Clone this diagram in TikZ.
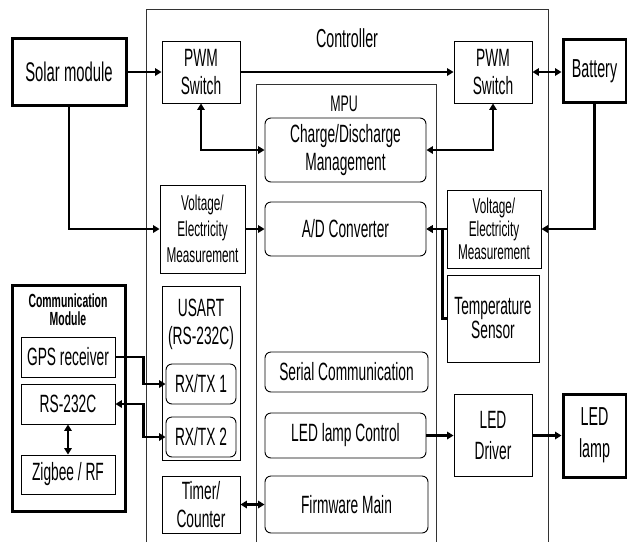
\documentclass[tikz,border=0pt]{standalone}
\usepackage{fontspec}
\setmainfont[FakeStretch=0.55]{Liberation Sans}
\usetikzlibrary{arrows.meta, positioning, calc}

\begin{document}
\begin{tikzpicture}[x=1pt, y=-1pt,
    every node/.style={inner sep=0pt, align=center, font=\fontsize{25}{28}\selectfont},
    frame/.style={line width=0.8pt, draw=black!80},
    blk/.style 2 args={draw, line width=0.9pt, minimum width=#1pt, minimum height=#2pt},
    rblk/.style 2 args={blk={#1}{#2}, rounded corners=6pt},
    hblk/.style 2 args={draw, line width=3pt, minimum width=#1pt, minimum height=#2pt},
    arr/.style={line width=2.8pt, -{Triangle[length=6.5pt, width=7.5pt]}},
    darr/.style={line width=2.8pt, {Triangle[length=6.5pt, width=7.5pt]}-{Triangle[length=6.5pt, width=7.5pt]}}]
    \useasboundingbox (0,0) rectangle (627,542);

    \draw[frame] (146,542) -- (146,9) -- (548,9) -- (548,542);
    \draw[frame] (256,542) -- (256,84) -- (436,84) -- (436,542);
    \node[font=\fontsize{26}{28}\selectfont] (ctrl) at (347,38) {Controller};
    \node[font=\fontsize{22.5}{26}\selectfont] (mpu) at (344,104) {MPU};

    \node[hblk={114}{67}, font=\fontsize{27}{30}\selectfont] (solar) at (69,72) {Solar module};
    \node[blk={78}{62}] (pwmL) at (201,72) {PWM\\Switch};
    \node[blk={78}{62}] (pwmR) at (493,72) {PWM\\Switch};
    \node[hblk={63}{63}, font=\fontsize{26}{28}\selectfont] (batt) at (594.5,71) {Battery};

    \node[rblk={161}{64}] (charge) at (345.5,150) {Charge/Discharge\\Management};
    \node[rblk={161}{54}] (adc) at (345.5,229) {A/D Converter};
    \node[blk={85}{88}, font=\fontsize{21.4}{26}\selectfont] (voltL) at (202.5,229) {Voltage/\\Electricity\\Measurement};
    \node[blk={94}{78}, font=\fontsize{21.4}{23}\selectfont] (voltR) at (494,229) {Voltage/\\Electricity\\Measurement};
    \node[blk={92}{87}, font=\fontsize{25}{24}\selectfont] (temp) at (493,318.5) {Temperature\\Sensor};

    \node[rblk={163}{40}] (serial) at (346.5,372) {Serial Communication};
    \node[rblk={161}{45}] (ledctl) at (345.5,435.5) {LED lamp Control};
    \node[rblk={163}{57}] (fw) at (346.5,504.5) {Firmware Main};
    \node[blk={78}{82}, font=\fontsize{25}{31}\selectfont] (drv) at (493,435.5) {LED\\Driver};
    \node[hblk={63}{83}, font=\fontsize{26}{32}\selectfont] (lamp) at (594.5,435.5) {LED\\lamp};

    \node[hblk={113}{226}] (comm) at (68.5,398) {};
    \node[font=\bfseries\fontsize{19}{18}\selectfont] (commlbl) at (68,310) {Communication\\Module};
    \node[blk={94}{40}] (gps) at (68,357) {GPS receiver};
    \node[blk={94}{40}] (rs) at (68,404) {RS-232C};
    \node[blk={94}{39}] (zig) at (68,474.5) {Zigbee / RF};

    \node[blk={78}{174}] (usart) at (201,373) {};
    \node (usartlbl) at (201,324) {USART\\(RS-232C)};
    \node[rblk={70}{40}] (rx1) at (201,384) {RX/TX 1};
    \node[rblk={70}{40}] (rx2) at (201,437) {RX/TX 2};
    \node[blk={78}{57}] (timer) at (201,504.5) {Timer/\\Counter};

    \draw[arr] (solar.east) -- (pwmL.west);
    \draw[arr] (pwmL.east) -- (pwmR.west);
    \draw[darr] (pwmR.east) -- (pwmR.east -| batt.west);
    \draw[darr] (pwmL.south) |- (charge.west);
    \draw[darr] (charge.east) -| (pwmR.south);
    \draw[arr] (solar.south) |- (voltL.west);
    \draw[arr] (voltL.east) -- (adc.west);
    \draw[arr] (batt.south) |- (voltR.east);
    \draw[arr] (voltR.west) -- (adc.east);
    \draw[arr] (temp.west) -- ++(-4,0) |- (adc.east);
    \draw[arr] (gps.east) -- ++(28,0) |- (rx1.west);
    \draw[darr] (rs.east) -- ++(28,0) |- (rx2.west);
    \draw[darr, line width=1.8pt] (rs.south) -- (zig.north);
    \draw[darr] (timer.east) -- (fw.west);
    \draw[arr] (ledctl.east) -- (drv.west);
    \draw[arr] (drv.east) -- (lamp.west);
\end{tikzpicture}
\end{document}
